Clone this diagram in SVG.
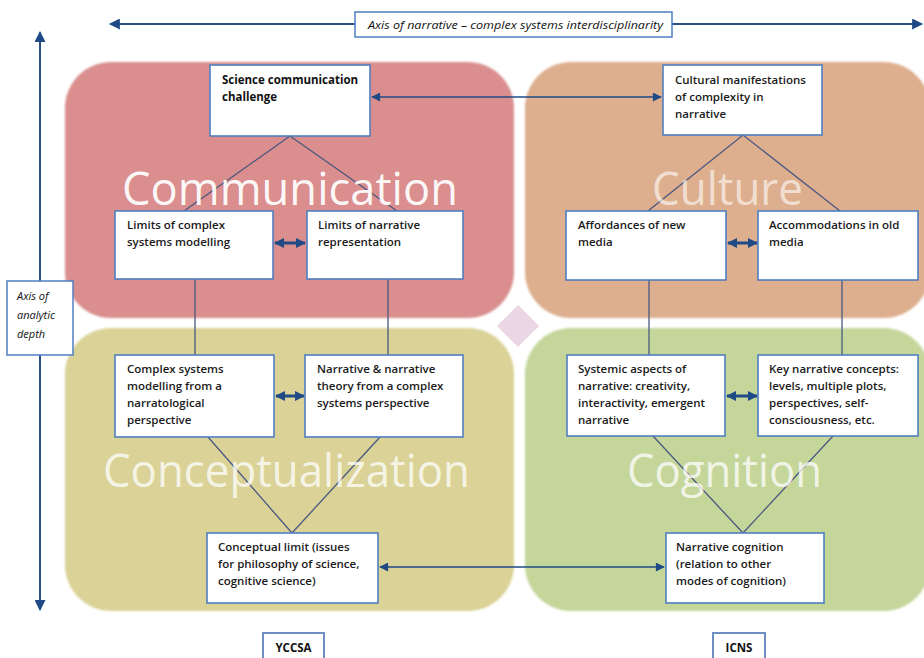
<svg xmlns="http://www.w3.org/2000/svg" width="924" height="658" viewBox="0 0 924 658">
<defs>
<style>
.quad{filter:url(#soft)}
.box{fill:#ffffff;stroke:#4f7fc0;stroke-width:1.6}
.tag{fill:#ffffff;stroke:#6f8fc4;stroke-width:2}
.t{font-family:"Open Sans","Liberation Sans",sans-serif;font-weight:600;font-size:11.5px;fill:#1a1a1a}
.tb{font-family:"Open Sans","Liberation Sans",sans-serif;font-weight:700;font-size:11.5px;fill:#111}
.it{font-family:"Open Sans","Liberation Sans",sans-serif;font-style:italic;font-size:11px;fill:#111}
.big{font-family:"Open Sans","Liberation Sans",sans-serif;font-size:45px;fill:#ffffff}
.tree{stroke:#4a5880;stroke-width:1.3;fill:none}
.arr{stroke:#1f4a86;stroke-width:1.6;fill:none}
.dbl{stroke:#1f4a86;stroke-width:3;fill:none}
.axis{stroke:#2c4f86;stroke-width:2;fill:none}
</style>
<filter id="soft" x="-5%" y="-5%" width="110%" height="110%"><feGaussianBlur stdDeviation="1.2"/></filter>
<marker id="ah" viewBox="0 0 10 10" refX="9" refY="5" markerWidth="10" markerHeight="9" markerUnits="userSpaceOnUse" orient="auto-start-reverse"><path d="M0,0 L10,5 L0,10 Z" fill="#1f4a86"/></marker>
<marker id="dh" viewBox="0 0 10 10" refX="9" refY="5" markerWidth="10" markerHeight="11" markerUnits="userSpaceOnUse" orient="auto-start-reverse"><path d="M0,0 L10,5 L0,10 Z" fill="#1f4a86"/></marker>
<marker id="xh" viewBox="0 0 10 10" refX="9" refY="5" markerWidth="12" markerHeight="11" markerUnits="userSpaceOnUse" orient="auto-start-reverse"><path d="M0,0 L10,5 L0,10 Z" fill="#1f4a86"/></marker>
</defs>
<rect width="924" height="658" fill="#ffffff"/>

<g id="quadrants">
<rect class="quad" x="65" y="62" width="449" height="256" rx="46" fill="#da8e8e"/>
<rect class="quad" x="525" y="62" width="405" height="256" rx="46" fill="#ddaf8e"/>
<rect class="quad" x="65" y="328" width="449" height="283" rx="46" fill="#dad296"/>
<rect class="quad" x="525" y="328" width="405" height="283" rx="46" fill="#c5d69b"/>
<path d="M518,305 L539,326 L518,347 L497,326 Z" fill="#ead6e4"/>
</g>

<g id="axes">
<line class="axis" x1="110" y1="24" x2="922" y2="24" marker-start="url(#xh)" marker-end="url(#xh)"/>
<line class="axis" x1="40" y1="32" x2="40" y2="610" marker-start="url(#xh)" marker-end="url(#xh)"/>
<g id="axis-h-label">
<rect x="355" y="12" width="317" height="25" fill="#ffffff" stroke="#4f7fc0" stroke-width="1.5"/>
<text class="it" x="368" y="29" textLength="295" lengthAdjust="spacingAndGlyphs">Axis of narrative – complex systems interdisciplinarity</text>
</g>
<g id="axis-v-label">
<rect x="7" y="281" width="66" height="74" fill="#ffffff" stroke="#4f7fc0" stroke-width="1.5"/>
<text class="it" x="17" y="300">Axis of</text>
<text class="it" x="17" y="319">analytic</text>
<text class="it" x="17" y="338">depth</text>
</g>
</g>

<g id="connectors">
<path class="tree" d="M184,211 L290,136 L397,211"/>
<path class="tree" d="M648,211 L743,135 L840,211"/>
<line class="tree" x1="195" y1="279" x2="195" y2="355"/>
<line class="tree" x1="388" y1="279" x2="388" y2="355"/>
<line class="tree" x1="649" y1="280" x2="649" y2="355"/>
<line class="tree" x1="842" y1="280" x2="842" y2="355"/>
<path class="tree" d="M208,437 L292,533 L380,437"/>
<path class="tree" d="M653,436 L743,533 L833,436"/>
<line class="arr" x1="372" y1="97" x2="661" y2="97" marker-start="url(#ah)" marker-end="url(#ah)"/>
<line class="arr" x1="380" y1="567" x2="664" y2="567" marker-start="url(#ah)" marker-end="url(#ah)"/>
<line class="dbl" x1="275" y1="243" x2="305" y2="243" marker-start="url(#dh)" marker-end="url(#dh)"/>
<line class="dbl" x1="728" y1="243" x2="757" y2="243" marker-start="url(#dh)" marker-end="url(#dh)"/>
<line class="dbl" x1="276" y1="396" x2="304" y2="396" marker-start="url(#dh)" marker-end="url(#dh)"/>
<line class="dbl" x1="727" y1="396" x2="757" y2="396" marker-start="url(#dh)" marker-end="url(#dh)"/>
</g>

<g id="titles">
<text class="big" x="122" y="205" textLength="336" lengthAdjust="spacingAndGlyphs" fill-opacity="0.95">Communication</text>
<text class="big" x="652" y="205" textLength="151" lengthAdjust="spacingAndGlyphs" fill-opacity="0.6">Culture</text>
<text class="big" x="103" y="487" textLength="367" lengthAdjust="spacingAndGlyphs" fill-opacity="0.75">Conceptualization</text>
<text class="big" x="627" y="487" textLength="195" lengthAdjust="spacingAndGlyphs" fill-opacity="0.75">Cognition</text>
</g>

<g id="n-science">
<rect class="box" x="210" y="65" width="160" height="71"/>
<text class="tb" x="222" y="84">Science communication</text>
<text class="tb" x="222" y="101">challenge</text>
</g>
<g id="n-cultural">
<rect class="box" x="663" y="65" width="159" height="70"/>
<text class="t" x="675" y="84">Cultural manifestations</text>
<text class="t" x="675" y="101">of complexity in</text>
<text class="t" x="675" y="118">narrative</text>
</g>
<g id="n-limits-cs">
<rect class="box" x="115" y="211" width="158" height="68"/>
<text class="t" x="127" y="229">Limits of complex</text>
<text class="t" x="127" y="246">systems modelling</text>
</g>
<g id="n-limits-nr">
<rect class="box" x="307" y="211" width="156" height="68"/>
<text class="t" x="318" y="229">Limits of narrative</text>
<text class="t" x="318" y="246">representation</text>
</g>
<g id="n-affordances">
<rect class="box" x="566" y="211" width="160" height="69"/>
<text class="t" x="578" y="229">Affordances of new</text>
<text class="t" x="578" y="246">media</text>
</g>
<g id="n-accommodations">
<rect class="box" x="758" y="211" width="160" height="69"/>
<text class="t" x="769" y="229">Accommodations in old</text>
<text class="t" x="769" y="246">media</text>
</g>
<g id="n-cs-narratological">
<rect class="box" x="115" y="355" width="159" height="82"/>
<text class="t" x="127" y="373">Complex systems</text>
<text class="t" x="127" y="390">modelling from a</text>
<text class="t" x="127" y="407">narratological</text>
<text class="t" x="127" y="424">perspective</text>
</g>
<g id="n-narrative-theory">
<rect class="box" x="305" y="355" width="158" height="82"/>
<text class="t" x="317" y="373">Narrative &amp; narrative</text>
<text class="t" x="317" y="390">theory from a complex</text>
<text class="t" x="317" y="407">systems perspective</text>
</g>
<g id="n-systemic">
<rect class="box" x="567" y="355" width="158" height="81"/>
<text class="t" x="578" y="373">Systemic aspects of</text>
<text class="t" x="578" y="390">narrative: creativity,</text>
<text class="t" x="578" y="407">interactivity, emergent</text>
<text class="t" x="578" y="424">narrative</text>
</g>
<g id="n-key-concepts">
<rect class="box" x="758" y="355" width="160" height="81"/>
<text class="t" x="769" y="373">Key narrative concepts:</text>
<text class="t" x="769" y="390">levels, multiple plots,</text>
<text class="t" x="769" y="407">perspectives, self-</text>
<text class="t" x="769" y="424">consciousness, etc.</text>
</g>
<g id="n-conceptual-limit">
<rect class="box" x="207" y="533" width="171" height="70"/>
<text class="t" x="218" y="551">Conceptual limit (issues</text>
<text class="t" x="218" y="568">for philosophy of science,</text>
<text class="t" x="218" y="585">cognitive science)</text>
</g>
<g id="n-narrative-cognition">
<rect class="box" x="666" y="533" width="158" height="70"/>
<text class="t" x="676" y="551">Narrative cognition</text>
<text class="t" x="676" y="568">(relation to other</text>
<text class="t" x="676" y="585">modes of cognition)</text>
</g>
<g id="n-yccsa">
<rect class="tag" x="263" y="633" width="61" height="30"/>
<text class="tb" x="293.5" y="652" text-anchor="middle" font-size="10">YCCSA</text>
</g>
<g id="n-icns">
<rect class="tag" x="713" y="633" width="52" height="30"/>
<text class="tb" x="739" y="652" text-anchor="middle" font-size="10">ICNS</text>
</g>
</svg>
